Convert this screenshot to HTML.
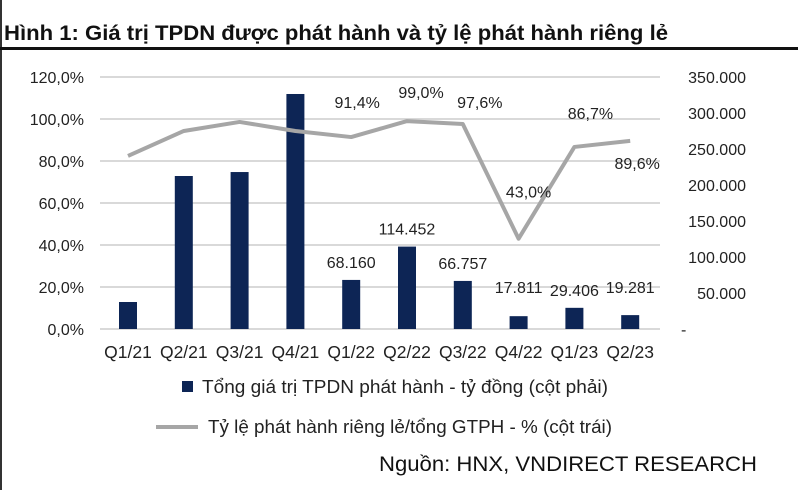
<!DOCTYPE html>
<html><head><meta charset="utf-8"><style>
body{margin:0;background:#fff;}
svg text{font-family:"Liberation Sans",Arial,sans-serif;}
</style></head><body>
<svg width="798" height="490">
<rect x="0" y="0" width="2" height="490" fill="#333"/>
<text x="4" y="40" font-size="21.5" font-weight="bold" fill="#111" textLength="664" lengthAdjust="spacingAndGlyphs">Hình 1: Giá trị TPDN được phát hành và tỷ lệ phát hành riêng lẻ</text>
<rect x="0" y="47" width="798" height="3" fill="#111"/>
<g id="grid"></g><g id="bars"></g><g id="line"></g><g id="labels"></g>
<g>
<rect x="182" y="381" width="11" height="11" fill="#0d2555"/>
<text x="202" y="393" font-size="18" fill="#222" textLength="406" lengthAdjust="spacingAndGlyphs">Tổng giá trị TPDN phát hành - tỷ đồng (cột phải)</text>
<line x1="156" y1="427" x2="198" y2="427" stroke="#a6a6a6" stroke-width="4"/>
<text x="208" y="433" font-size="18" fill="#222" textLength="404" lengthAdjust="spacingAndGlyphs">Tỷ lệ phát hành riêng lẻ/tổng GTPH - % (cột trái)</text>
</g>
<text x="757" y="471" font-size="21" fill="#111" text-anchor="end" textLength="378" lengthAdjust="spacingAndGlyphs">Nguồn: HNX, VNDIRECT RESEARCH</text>
</svg>
<script>
const categories=["Q1/21","Q2/21","Q3/21","Q4/21","Q1/22","Q2/22","Q3/22","Q4/22","Q1/23","Q2/23"];
const issuance=[37500,212500,218000,326400,68160,114452,66757,17811,29406,19281];
const privateRatio=[82.4,94.3,98.6,94.3,91.4,99.0,97.6,43.0,86.7,89.6];
const leftTicks=[0,20,40,60,80,100,120];
const rightTicks=[0,50000,100000,150000,200000,250000,300000,350000];
const barLabels=[null,null,null,null,"68.160","114.452","66.757","17.811","29.406","19.281"];
const lineLabels=[null,null,null,null,"91,4%","99,0%","97,6%","43,0%","86,7%","89,6%"];
const NS="http://www.w3.org/2000/svg";
const y0=329,yTop=77,xL=100,xR=660,x0=128,step=55.8;
const xPos=i=>x0+i*step;
const yL=v=>y0-(v/120)*(y0-yTop);
const yR=v=>y0-(v/350000)*(y0-yTop);
// label layout offsets (pixels, not data)
const barLabDy=[0,0,0,0,-12,-12,-12,-23,-12,-22];
const lineLabDx=[0,0,0,0,6,14,17,10,16,7];
const lineLabDy=[0,0,0,0,-29,-23,-16,-41,-28,28];
function mk(t,a,p){const e=document.createElementNS(NS,t);for(const k in a)e.setAttribute(k,a[k]);p.appendChild(e);return e;}
const grid=document.getElementById('grid');
leftTicks.forEach(t=>{
 const l=mk('line',{x1:xL,x2:xR,y1:yL(t),y2:yL(t),stroke:'#d9d9d9','stroke-width':2},grid);
 
 
 const tx=mk('text',{x:84,y:yL(t)+6,'font-size':16,'text-anchor':'end',fill:'#222'},grid);
 tx.textContent=t.toFixed(1).replace('.',',')+'%';
 
 
});
rightTicks.forEach(t=>{
 const y=yR(t)+6;
 const tx=mk('text',{x:t===0?681:746,y:y,'font-size':16,'text-anchor':t===0?'start':'end',fill:'#222'},grid);
 tx.textContent=t===0?'-':t.toLocaleString('de-DE');
 
 
});
const bars=document.getElementById('bars'),lab=document.getElementById('labels');
categories.forEach((c,i)=>{
 const r=mk('rect',{x:xPos(i)-9,y:yR(issuance[i]),width:18,height:y0-yR(issuance[i]),fill:'#0d2555'},bars);
 
 
 const tx=mk('text',{x:xPos(i),y:358,'font-size':17.5,'text-anchor':'middle',fill:'#222'},lab);
 tx.textContent=c;
 
 
 if(barLabels[i]){
  const b=mk('text',{x:xPos(i),y:yR(issuance[i])+barLabDy[i],'font-size':16,'text-anchor':'middle',fill:'#222'},lab);
  b.textContent=barLabels[i];
  
  
 }
 if(lineLabels[i]){
  const l=mk('text',{x:xPos(i)+lineLabDx[i],y:yL(privateRatio[i])+lineLabDy[i],'font-size':16,'text-anchor':'middle',fill:'#222'},lab);
  l.textContent=lineLabels[i];
  
  
 }
});
const pl=mk('polyline',{points:privateRatio.map((v,i)=>xPos(i)+','+yL(v)).join(' '),fill:'none',stroke:'#a6a6a6','stroke-width':4,'stroke-linejoin':'round'},document.getElementById('line'));


</script>
</body></html>
